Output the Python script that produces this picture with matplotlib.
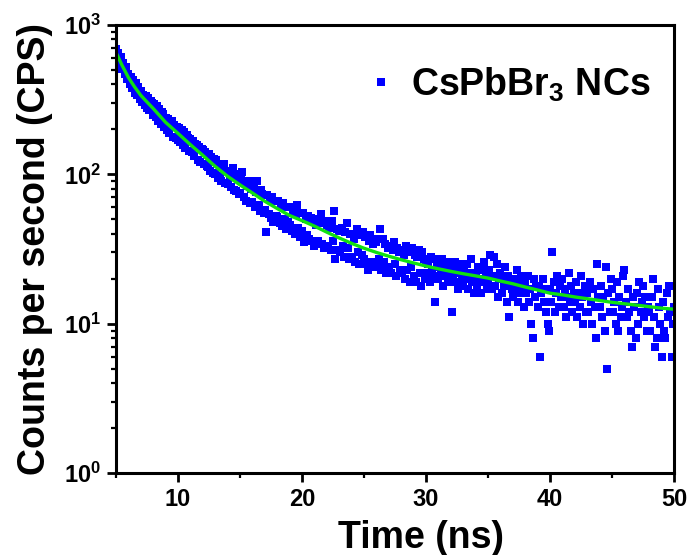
import numpy as np
import matplotlib
matplotlib.use("Agg")
import matplotlib.pyplot as plt
from matplotlib.ticker import FixedLocator, LogLocator, FuncFormatter, NullFormatter

plt.rcParams["font.family"] = ["Liberation Sans", "DejaVu Sans"]
plt.rcParams["font.weight"] = "bold"
plt.rcParams["mathtext.fontset"] = "custom"
plt.rcParams["mathtext.rm"] = "Liberation Sans:bold"
plt.rcParams["mathtext.bf"] = "Liberation Sans:bold"
plt.rcParams["mathtext.default"] = "bf"

# ── Decay data: channel times (ns) and counts per second ─────
t_start, t_step = 5.0, 0.1
counts = [
    690, 600, 645, 548, 610, 505, 560, 470, 525, 438,   # 5 ns
    470, 405, 448, 380, 425, 352, 410, 338, 382, 318,   # 6
    362, 305, 340, 292, 335, 280, 322, 268, 309, 300,   # 7
    250, 296, 241, 285, 228, 272, 218, 262, 252, 208,   # 8
    240, 198, 235, 190, 222, 228, 178, 215, 175, 208,   # 9
    170, 205, 165, 198, 158, 192, 150, 184, 176, 143,   # 10
    172, 142, 168, 133, 160, 156, 124, 153, 120, 148,   # 11
    146, 118, 142, 114, 112, 136, 105, 131, 102, 126,   # 12
    100, 124, 94, 118, 97, 90, 113, 117, 87, 106,       # 13
    86, 106, 96, 82, 111, 79, 101, 77, 95, 74,          # 14
    75, 92, 103, 71, 88, 66, 84, 90, 64, 80,            # 15
    65, 82, 60, 76, 90, 62, 57, 78, 74, 55,             # 16
    58, 41, 73, 54, 68, 51, 70, 48, 66, 53,             # 17
    52, 66, 47, 61, 45, 64, 50, 43, 60, 48,             # 18
    46, 60, 42, 57, 40, 54, 62, 44, 38, 55,             # 19
    42, 55, 35, 50, 39, 53, 37, 51, 36, 49,             # 20
    33, 46, 50, 36, 48, 54, 34, 47, 32, 49,             # 21
    46, 33, 44, 31, 49, 36, 57, 27, 43, 31,             # 22
    42, 30, 44, 33, 28, 41, 47, 32, 27, 40,             # 23
    28, 40, 37, 26, 43, 30, 25, 39, 29, 41,             # 24
    27, 38, 25, 23, 36, 39, 26, 34, 24, 37,             # 25
    35, 25, 27, 43, 23, 37, 26, 34, 22, 32,             # 26
    24, 33, 22, 31, 35, 25, 21, 32, 30, 23,             # 27
    31, 22, 29, 20, 33, 23, 30, 19, 24, 32,             # 28
    21, 29, 19, 28, 31, 22, 18, 30, 27, 20,             # 29
    26, 22, 25, 19, 28, 23, 21, 14, 27, 24,             # 30
    20, 25, 22, 27, 18, 24, 21, 23, 19, 26,             # 31
    24, 12, 21, 26, 19, 23, 17, 22, 25, 20,             # 32
    18, 23, 20, 25, 17, 22, 27, 19, 21, 16,             # 33
    22, 18, 24, 20, 16, 23, 19, 26, 21, 17,             # 34
    19, 23, 29, 17, 21, 28, 18, 25, 15, 20,             # 35
    22, 16, 20, 18, 24, 14, 21, 11, 19, 17,             # 36
    15, 20, 17, 23, 14, 19, 16, 21, 18, 13,             # 37
    19, 16, 21, 14, 17, 10, 8, 20, 15, 18,              # 38
    13, 18, 6, 16, 20, 14, 17, 12, 10, 9,               # 39
    17, 14, 30, 19, 12, 16, 21, 13, 18, 15,             # 40
    20, 13, 17, 11, 15, 22, 14, 18, 12, 16,             # 41
    14, 19, 11, 16, 13, 21, 15, 10, 18, 12,             # 42
    16, 12, 19, 14, 10, 17, 13, 8, 25, 15,              # 43
    13, 18, 11, 15, 9, 24, 5, 16, 12, 20,               # 44
    17, 12, 14, 10, 19, 9, 15, 11, 13, 21,              # 45
    23, 14, 11, 17, 12, 9, 7, 15, 13, 8,                # 46
    16, 10, 19, 12, 14, 18, 11, 15, 9, 13,              # 47
    12, 9, 15, 20, 11, 7, 8, 17, 13, 10,                # 48
    6, 14, 9, 8, 16, 11, 18, 12, 6, 10,                 # 49
    13,                                                 # 50
]
time = np.round(t_start + t_step * np.arange(len(counts)), 2)

# ── Fitted decay curve ───────────────────────────────────────
fit_t = [5, 5.5, 6, 6.5, 7, 7.5, 8, 9, 10, 11, 12, 13, 14, 15, 16, 17, 18,
         19, 20, 21, 22, 23, 24, 25, 26, 27, 28, 29, 30, 31, 32, 33, 34, 35,
         36, 37, 38, 39, 40, 41, 42, 43, 44, 45, 46, 47, 48, 49, 50]
fit_y = [655, 535, 445, 385, 338, 305, 276, 223, 188, 158, 134, 113, 97, 85,
         75, 66, 59, 53, 49, 45, 41, 37.5, 34.5, 32, 30, 28.3, 26.8, 25.5,
         24.3, 23.3, 22.4, 21.6, 20.9, 20.2, 19.3, 18.5, 17.6, 16.8, 16.0,
         15.6, 15.1, 14.7, 14.3, 13.9, 13.6, 13.3, 13.0, 12.7, 12.5]

fig = plt.figure(figsize=(6.92, 5.55), dpi=100)
ax = fig.add_axes([0.1676, 0.1477, 0.8064, 0.8073])

ax.plot(time, counts, ls="none", marker="s", ms=5.5, mew=0, color="#0000ff",
        label=r"CsPbBr$_3$ NCs")
ax.plot(fit_t, fit_y, color="#11e011", lw=2.4)

ax.set_yscale("log")
ax.set_xlim(5, 50)
ax.set_ylim(1, 1000)

ax.xaxis.set_major_locator(FixedLocator([10, 20, 30, 40, 50]))
ax.xaxis.set_minor_locator(FixedLocator([5, 15, 25, 35, 45]))
ax.yaxis.set_major_locator(LogLocator(base=10, numticks=10))
ax.yaxis.set_minor_locator(LogLocator(base=10, subs=np.arange(2, 10), numticks=10))
ax.yaxis.set_minor_formatter(NullFormatter())
ax.yaxis.set_major_formatter(FuncFormatter(lambda v, p: r"$10^{%d}$" % round(np.log10(v))))

for s in ax.spines.values():
    s.set_linewidth(2.2)
ax.tick_params(which="major", direction="out", length=6.5, width=2, labelsize=17, pad=4)
ax.tick_params(which="minor", direction="out", length=3.5, width=1.6)
for lab in ax.get_xticklabels() + ax.get_yticklabels():
    lab.set_fontweight("bold")

ax.set_xlabel("Time (ns)", fontsize=27, fontweight="bold")
ax.xaxis.set_label_coords(0.547, -0.104, transform=ax.transAxes)
ax.set_ylabel("Counts per second (CPS)", fontsize=27, fontweight="bold", labelpad=8)

ax.legend(loc="upper right", bbox_to_anchor=(1.025, 0.993), frameon=False,
          fontsize=27, handlelength=0.6, handletextpad=0.5, borderaxespad=0.6)

fig.savefig("out.png", dpi=100)
